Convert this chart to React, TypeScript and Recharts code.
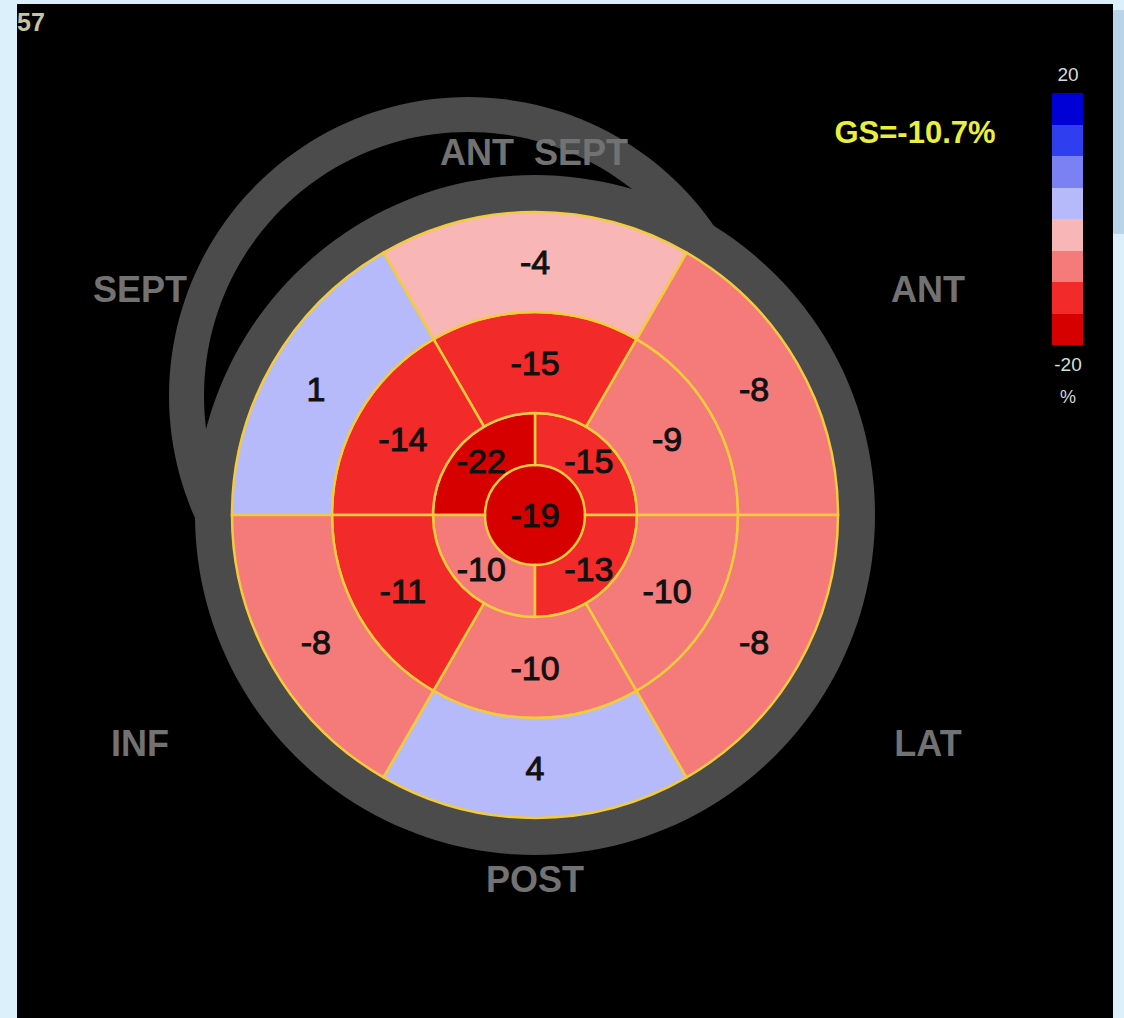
import { PieChart, Pie, Cell } from 'recharts';

// Segmental longitudinal strain (%), listed counterclockwise from 3 o'clock
const basalSegments = ['ANT', 'ANT SEPT', 'SEPT', 'INF', 'POST', 'LAT'];
const basalStrain = [-8, -4, 1, -8, 4, -8];
const midSegments = ['ANT', 'ANT SEPT', 'SEPT', 'INF', 'POST', 'LAT'];
const midStrain = [-9, -15, -14, -11, -10, -10];
const apicalSegments = ['ANT', 'SEPT', 'INF', 'LAT'];
const apicalStrain = [-15, -22, -10, -13];
const apexSegments = ['APEX'];
const apexStrain = [-19];
const globalStrain = -10.7;

// colour scale, top (+20) to bottom (-20), 5% per step
const scaleTop = 20;
const scaleBottom = -20;
const scaleStep = 5;
const scaleColors = ['#0000d6', '#2f3ff0', '#7b80f2', '#b6b9fa', '#f9b6b6', '#f57a7a', '#f22a2a', '#d70000'];

const wallLabels = [
  { text: 'ANT\u00a0\u00a0SEPT', x: 534, y: 165 },
  { text: 'SEPT', x: 140, y: 302 },
  { text: 'ANT', x: 928, y: 302 },
  { text: 'INF', x: 140, y: 756 },
  { text: 'LAT', x: 928, y: 756 },
  { text: 'POST', x: 535, y: 892 },
];

const CX = 535;
const CY = 515;
const LINE = '#f2cc3a';
const RIM = '#4b4b4b';
const FONT = '"Liberation Sans", Arial, sans-serif';

const colorFor = (v: number) => {
  const i = Math.ceil((scaleTop - v) / scaleStep) - 1;
  return scaleColors[Math.max(0, Math.min(scaleColors.length - 1, i))];
};

const toCells = (names: string[], values: number[]) =>
  values.map((v, i) => ({ name: names[i], value: 1, strain: v }));

const rings = [
  { key: 'apex', data: toCells(apexSegments, apexStrain), inner: 0, outer: 50, stroke: 'none' },
  { key: 'apical', data: toCells(apicalSegments, apicalStrain), inner: 50, outer: 102, stroke: LINE },
  { key: 'mid', data: toCells(midSegments, midStrain), inner: 102, outer: 203, stroke: LINE },
  { key: 'basal', data: toCells(basalSegments, basalStrain), inner: 203, outer: 303, stroke: LINE },
];

const rimData = [{ name: 'rim', value: 1 }];

const renderStrain = (p: any) => {
  const r = p.innerRadius > 0 ? (p.innerRadius + p.outerRadius) / 2 : 0;
  const a = (-p.midAngle * Math.PI) / 180;
  const v = p.strain ?? p.payload?.strain;
  return (
    <text
      key={`lbl-${p.index}`}
      x={p.cx + r * Math.cos(a)}
      y={p.cy + r * Math.sin(a)}
      textAnchor="middle"
      dominantBaseline="central"
      fill="#111"
      stroke="#111"
      strokeWidth={1}
      fontSize={34}
      fontFamily={FONT}
    >
      {String(v)}
    </text>
  );
};

export default function App() {
  return (
    <div
      style={{
        position: 'absolute',
        left: 0,
        top: 0,
        width: 1124,
        height: 1018,
        background: '#dcf0fb',
        overflow: 'hidden',
        fontFamily: FONT,
      }}
    >
      <div style={{ position: 'absolute', left: 1112, top: 10, width: 14, height: 224, background: '#b9d3e8', borderRadius: 4 }} />
      <div style={{ position: 'absolute', left: 17, top: 4, width: 1096, height: 1020, background: '#000', overflow: 'hidden' }}>
        <span style={{ position: 'absolute', left: 0, top: 3, color: '#c9c3a0', fontSize: 25, fontWeight: 'bold', lineHeight: '30px' }}>57</span>
      </div>

      <PieChart width={1124} height={1018} margin={{ top: 0, right: 0, bottom: 0, left: 0 }} style={{ position: 'absolute', left: 0, top: 0 }}>
        {/* two grey rims behind the plot */}
        <Pie data={rimData} dataKey="value" cx={468} cy={396} innerRadius={264} outerRadius={299} fill={RIM} stroke="none" isAnimationActive={false} />
        <Pie data={rimData} dataKey="value" cx={CX} cy={CY} innerRadius={300} outerRadius={340} fill={RIM} stroke="none" isAnimationActive={false} />

        {rings.map((ring) => (
          <Pie
            key={ring.key}
            data={ring.data}
            dataKey="value"
            cx={CX}
            cy={CY}
            innerRadius={ring.inner}
            outerRadius={ring.outer}
            startAngle={0}
            endAngle={360}
            stroke={ring.stroke}
            strokeWidth={2.5}
            isAnimationActive={false}
          >
            {ring.data.map((d) => (
              <Cell key={d.name} fill={colorFor(d.strain)} />
            ))}
          </Pie>
        ))}

        {/* value labels on top of every ring */}
        {rings.map((ring) => (
          <Pie
            key={`${ring.key}-labels`}
            data={ring.data}
            dataKey="value"
            cx={CX}
            cy={CY}
            innerRadius={ring.inner}
            outerRadius={ring.outer}
            startAngle={0}
            endAngle={360}
            fill="none"
            stroke="none"
            label={renderStrain}
            labelLine={false}
            isAnimationActive={false}
          />
        ))}
      </PieChart>

      <svg width={1124} height={1018} style={{ position: 'absolute', left: 0, top: 0, pointerEvents: 'none' }}>
        {wallLabels.map((w) => (
          <text key={w.text} x={w.x} y={w.y} textAnchor="middle" fill="#727272" fontSize={36} fontWeight="bold" fontFamily={FONT}>
            {w.text}
          </text>
        ))}
        <text x={915} y={143} textAnchor="middle" fill="#e9ef3a" fontSize={31} fontWeight="bold" fontFamily={FONT}>
          {`GS=${globalStrain}%`}
        </text>
      </svg>

      {/* colour bar */}
      <div style={{ position: 'absolute', left: 1052, top: 93, width: 31, height: 252, display: 'flex', flexDirection: 'column' }}>
        {scaleColors.map((c) => (
          <div key={c} style={{ flex: 1, background: c }} />
        ))}
      </div>
      <div style={{ position: 'absolute', left: 1043, top: 64, width: 50, textAlign: 'center', color: '#d6dbd6', fontSize: 19, lineHeight: '22px' }}>
        {scaleTop}
      </div>
      <div style={{ position: 'absolute', left: 1043, top: 354, width: 50, textAlign: 'center', color: '#cfe3d6', fontSize: 19, lineHeight: '22px' }}>
        {scaleBottom}
      </div>
      <div style={{ position: 'absolute', left: 1043, top: 386, width: 50, textAlign: 'center', color: '#d6dbd6', fontSize: 18, lineHeight: '22px' }}>
        %
      </div>
    </div>
  );
}
